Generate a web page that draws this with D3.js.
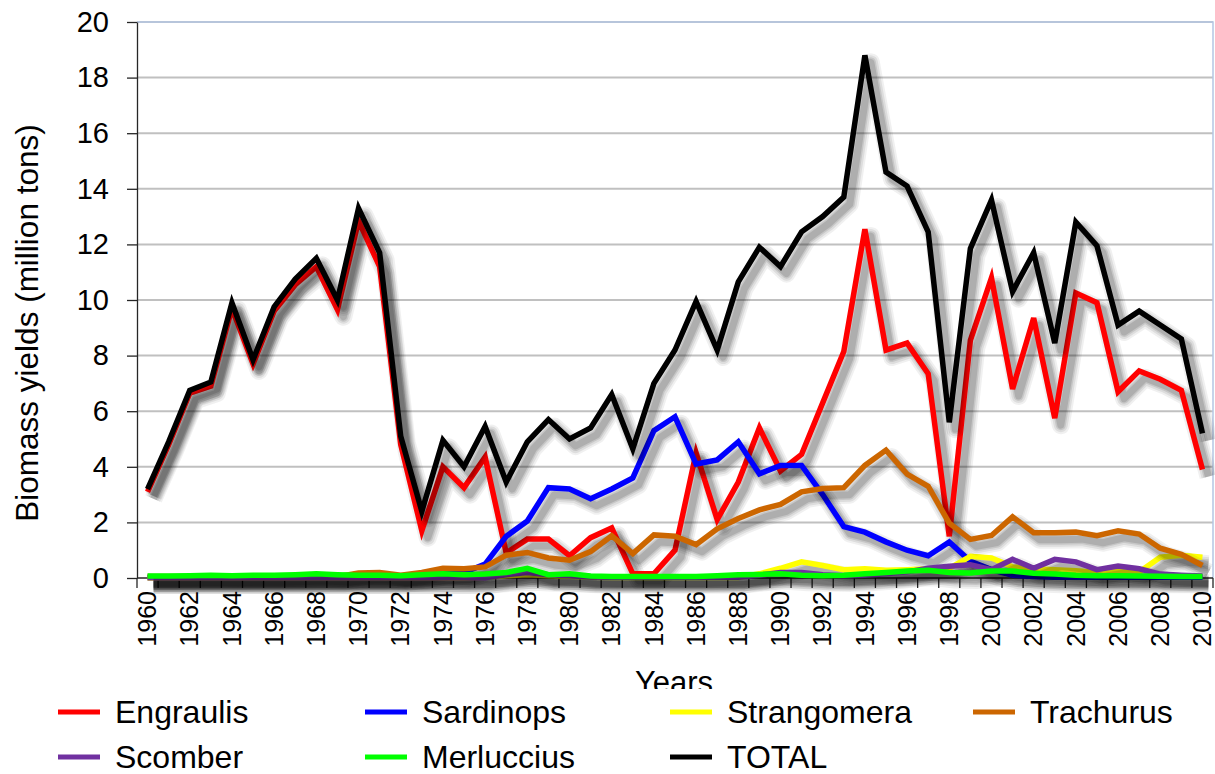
<html>
<head>
<style>
body { margin: 0; background: white; }
text { font-family: "Liberation Sans", Arial, sans-serif; fill: #000; }
.grid line { stroke: #c0c0c0; stroke-width: 2; }
.axis path, .axis line { stroke: #262626; stroke-width: 1.3; }
</style>
<script src="https://d3js.org/d3.v7.min.js"></script>
</head>
<body>
<div id="chart"></div>
<script>

// categories
var years = d3.range(1960, 2011);
var yTicks = [0, 2, 4, 6, 8, 10, 12, 14, 16, 18, 20];

// biomass yields, million tons
var engraulis = [3.1,4.8,6.65,6.9,9.7,7.7,9.6,10.55,11.2,9.65,12.85,11.2,4.8,
  1.7,4.0,3.25,4.35,0.9,1.4,1.4,0.8,1.45,1.8,0.15,0.15,1.0,
  4.5,2.1,3.45,5.4,3.85,4.45,6.3,8.15,12.55,8.2,8.45,7.35,1.5,
  8.55,10.8,6.8,9.35,5.75,10.25,9.9,6.7,7.45,7.15,6.75,3.9];
var sardinops = [0.02,0.02,0.02,0.02,0.02,0.02,0.02,0.02,0.02,0.02,0.02,0.02,
  0.05,0.1,0.15,0.2,0.5,1.5,2.05,3.25,3.2,2.85,3.2,3.6,5.3,5.8,
  4.1,4.25,4.9,3.75,4.05,4.05,3.0,1.85,1.65,1.3,1.0,0.8,1.3,0.6,0.3,0.1,0.05,
  0.03,0.03,0.03,0.03,0.03,0.03,0.03,0.03];
var strangomera = [0,0,0,0,0,0,0,0,0,0,0,0,0,0,0,0,
  0.03,0.08,0.12,0.08,0.06,0.03,
  0.02,0.02,0.02,0.02,0.02,0.02,0.02,
  0.15,0.35,0.58,0.45,0.3,0.33,0.28,0.3,0.33,0.35,0.78,
  0.72,0.4,0.33,0.3,0.26,0.2,0.26,0.22,0.75,0.82,0.75];
var trachurus = [0.05,0.05,0.05,0.05,0.05,0.05,0.05,0.05,0.05,0.05,
  0.18,0.2,0.1,0.2,0.35,0.33,0.4,0.82,0.92,0.72,
  0.64,0.95,1.52,0.88,1.55,1.5,1.2,1.77,2.14,2.45,
  2.65,3.1,3.22,3.25,4.05,4.6,3.74,3.3,1.97,1.39,
  1.53,2.2,1.63,1.63,1.65,1.52,1.7,1.58,1.07,0.85,0.45];
var scomber = [0.01,0.01,0.01,0.01,0.01,0.01,0.01,0.01,0.01,0.01,0.01,0.01,0.01,0.01,0.01,0.01,0.01,
  0.12,0.2,0.12,0.08,0.04,
  0.03,0.03,0.03,0.03,0.03,0.03,0.03,
  0.1,0.2,0.2,0.12,0.08,0.1,0.15,0.22,0.35,0.42,0.48,
  0.3,0.67,0.35,0.67,0.58,0.3,0.43,0.33,0.14,0.1,0.07];
var merluccius = [0.07,0.07,0.08,0.1,0.08,0.1,0.1,0.12,0.15,0.12,
  0.1,0.1,0.08,0.12,0.15,0.12,0.14,0.2,0.35,0.12,
  0.15,0.07,0.05,0.05,0.05,0.05,0.05,0.08,0.12,0.13,
  0.15,0.1,0.08,0.1,0.15,0.2,0.25,0.28,0.2,0.18,
  0.25,0.25,0.17,0.14,0.1,0.08,0.08,0.07,0.06,0.05,0.05];
var total = [3.2,4.9,6.75,7.05,9.9,7.85,9.75,10.75,11.5,10.0,13.3,11.7,5.1,
  2.4,4.95,4.0,5.45,3.45,4.9,5.7,5.0,5.4,6.6,4.65,7.0,8.2,
  9.95,8.2,10.65,11.9,11.2,12.45,13.0,13.7,18.8,14.6,14.1,12.45,5.6,
  11.85,13.6,10.3,11.7,8.45,12.8,11.95,9.1,9.6,9.1,8.6,5.2];

var seriesNames = ["Engraulis", "Sardinops", "Strangomera", "Trachurus", "Scomber", "Merluccius", "TOTAL"];
var seriesValues = [engraulis, sardinops, strangomera, trachurus, scomber, merluccius, total];
var seriesColors = ["#ff0000", "#0000ff", "#ffff00", "#cc6600", "#7030a0", "#00ff00", "#000000"];

var width = 1215, height = 774;
// (window.top is read only, so no plain "top" here)
var plotL = 137, plotR = 1213, plotT = 22, plotB = 578;

var svg = d3.select("#chart").append("svg")
    .attr("width", width)
    .attr("height", height);

svg.append("rect").attr("width", width).attr("height", height).attr("fill", "white");

var x = d3.scalePoint().domain(years).range([plotL, plotR]).padding(0.5);
var band = d3.scaleBand().domain(years).range([plotL, plotR]);
var y = d3.scaleLinear().domain([0, 20]).range([plotB, plotT]);

// gridlines
svg.append("g").attr("class", "grid")
  .selectAll("line")
  .data(yTicks.slice(1))
  .enter().append("line")
    .attr("x1", plotL).attr("x2", plotR)
    .attr("y1", function(d) { return y(d); })
    .attr("y2", function(d) { return y(d); });

// light frame top / right
svg.append("path")
    .attr("d", "M" + plotL + "," + plotT + "H" + plotR + "V" + plotB)
    .attr("fill", "none")
    .attr("stroke", "#b4c6e4")
    .attr("stroke-width", 1.5);

// y axis
var yAxis = svg.append("g")
    .attr("class", "axis")
    .attr("transform", "translate(" + plotL + ",0)")
    .call(d3.axisLeft(y).tickValues(yTicks).tickSize(10).tickSizeOuter(0).tickPadding(18));
yAxis.selectAll("text")
    .style("font-family", "'Liberation Sans', Arial, sans-serif")
    .style("font-size", "29px")
    .attr("fill", "#000");

// x axis line + ticks between categories
var xAxis = svg.append("g").attr("class", "axis");
xAxis.append("line")
    .attr("x1", plotL).attr("x2", plotR)
    .attr("y1", plotB).attr("y2", plotB);
xAxis.selectAll(".tk")
  .data(years.concat([null]))
  .enter().append("line")
    .attr("class", "tk")
    .attr("x1", function(d) { return d === null ? plotR : band(d); })
    .attr("x2", function(d) { return d === null ? plotR : band(d); })
    .attr("y1", plotB).attr("y2", plotB + 10);

xAxis.selectAll(".lbl")
  .data(years.filter(function(d) { return d % 2 === 0; }))
  .enter().append("text")
    .attr("class", "lbl")
    .attr("transform", function(d) { return "translate(" + x(d) + "," + (plotB + 13) + ") rotate(-90)"; })
    .attr("text-anchor", "end")
    .attr("dy", "0.35em")
    .style("font-size", "25px")
    .text(function(d) { return d; });

// axis titles
svg.append("text")
    .attr("transform", "translate(38,323) rotate(-90)")
    .attr("text-anchor", "middle")
    .style("font-size", "31.5px")
    .text("Biomass yields (million tons)");

svg.append("text")
    .attr("x", 674).attr("y", 693)
    .attr("text-anchor", "middle")
    .style("font-size", "31px")
    .text("Years");

// lines; the soft gray shadow is built from a few wide, faint strokes
var line = d3.line()
    .x(function(d, i) { return x(years[i]); })
    .y(function(d) { return y(d); });

var shadowLayers = [[18, 0.06], [14, 0.08], [10, 0.1], [7, 0.12]];

var series = svg.append("g")
  .selectAll("g")
  .data(seriesValues)
  .enter().append("g");

shadowLayers.forEach(function(s) {
  series.append("path")
      .attr("d", line)
      .attr("transform", "translate(6,7)")
      .attr("fill", "none")
      .attr("stroke", "#000")
      .attr("stroke-opacity", s[1])
      .attr("stroke-width", s[0])
      .attr("stroke-linejoin", "round");
});

series.append("path")
    .attr("d", line)
    .attr("fill", "none")
    .attr("stroke", function(d, i) { return seriesColors[i]; })
    .attr("stroke-width", 5.5)
    .attr("stroke-linejoin", "miter");

// legend (its white box cuts the bottom of "Years", like the original)
var legend = svg.append("g");
legend.append("rect")
    .attr("x", 0).attr("y", 689)
    .attr("width", width).attr("height", height - 689)
    .attr("fill", "white");

var legX = [58, 365, 670, 973];
var legY = [712, 757];

var item = legend.selectAll(".item")
  .data(seriesNames)
  .enter().append("g")
    .attr("class", "item")
    .attr("transform", function(d, i) {
      return "translate(" + legX[i % 4] + "," + legY[Math.floor(i / 4)] + ")";
    });
item.append("line")
    .attr("x1", 0).attr("x2", 42)
    .attr("stroke", function(d, i) { return seriesColors[i]; })
    .attr("stroke-width", 5);
item.append("text")
    .attr("x", 57)
    .attr("dy", "0.35em")
    .style("font-size", "32px")
    .text(function(d) { return d; });

</script>
</body>
</html>
